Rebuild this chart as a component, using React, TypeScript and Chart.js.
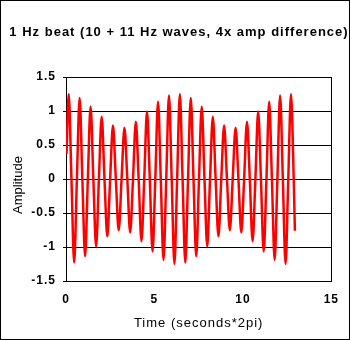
import { useEffect, useRef } from 'react';
import { Chart, registerables } from 'chart.js';

Chart.register(...registerables);

const TITLE = '1 Hz beat (10 + 11 Hz waves, 4x amp difference)';
const X_TITLE = 'Time (seconds*2pi)';
const Y_TITLE = 'Amplitude';
const X_TICKS = [0, 5, 10, 15];
const X_TICK_LABELS = ['0', '5', '10', '15'];
const Y_TICKS = [-1.5, -1, -0.5, 0, 0.5, 1, 1.5];
const Y_TICK_LABELS = ['-1.5', '-1', '-0.5', '0', '0.5', '1', '1.5'];

// time (seconds*2pi) of each peak / zero crossing / trough
const TIME = [
  0.03,
  0.154, 0.308, 0.462, 0.616, 0.77, 0.925, 1.08, 1.235, 1.39, 1.546,
  1.703, 1.86, 2.017, 2.176, 2.335, 2.495, 2.656, 2.817, 2.979, 3.142,
  3.304, 3.466, 3.627, 3.788, 3.948, 4.107, 4.266, 4.423, 4.58, 4.737,
  4.893, 5.048, 5.203, 5.358, 5.513, 5.667, 5.821, 5.975, 6.129, 6.283,
  6.437, 6.591, 6.745, 6.899, 7.054, 7.208, 7.363, 7.518, 7.674, 7.829,
  7.986, 8.143, 8.301, 8.459, 8.618, 8.778, 8.939, 9.1, 9.262, 9.425,
  9.587, 9.749, 9.91, 10.071, 10.231, 10.391, 10.549, 10.707, 10.864, 11.02,
  11.176, 11.332, 11.487, 11.641, 11.796, 11.95, 12.104, 12.259, 12.412, 12.566,
  12.72, 12.874,
  12.94,
];

const AMPLITUDE = [
  0.37,
  1.248, 0, -1.228, 0, 1.19, 0, -1.136, 0, 1.068, 0,
  -0.992, 0, 0.914, 0, -0.842, 0, 0.786, 0, -0.754, 0,
  0.754, 0, -0.786, 0, 0.842, 0, -0.914, 0, 0.992, 0,
  -1.068, 0, 1.136, 0, -1.19, 0, 1.228, 0, -1.248, 0,
  1.248, 0, -1.228, 0, 1.19, 0, -1.136, 0, 1.068, 0,
  -0.992, 0, 0.914, 0, -0.842, 0, 0.786, 0, -0.754, 0,
  0.754, 0, -0.786, 0, 0.842, 0, -0.914, 0, 0.992, 0,
  -1.068, 0, 1.136, 0, -1.19, 0, 1.228, 0, -1.248, 0,
  1.248, 0,
  -0.76,
];

const FONT = "'Liberation Sans', Arial, sans-serif";

export default function App() {
  const ref = useRef<HTMLCanvasElement>(null);

  useEffect(() => {
    const canvas = ref.current;
    if (!canvas) return;

    const spacing = {
      id: 'spacing',
      beforeUpdate(c: any) {
        c.ctx.letterSpacing = '1px';
      },
      beforeDraw(c: any) {
        c.ctx.letterSpacing = '1px';
      },
    };
    const frame = {
      id: 'frame',
      afterDraw(c: any) {
        const ctx = c.ctx;
        ctx.save();
        ctx.strokeStyle = '#000';
        ctx.lineWidth = 1;
        ctx.strokeRect(0.5, 0.5, c.width - 1, c.height - 1);
        ctx.restore();
      },
    };

    const chart = new Chart(canvas, {
      type: 'line',
      data: {
        datasets: [
          {
            data: TIME.map((x, i) => ({ x, y: AMPLITUDE[i] })),
            borderColor: '#ff0000',
            borderWidth: 2.5,
            pointRadius: 0,
            cubicInterpolationMode: 'monotone',
            fill: false,
          },
        ],
      },
      options: {
        animation: false,
        responsive: false,
        devicePixelRatio: 1,
        layout: { padding: { left: 8, right: 0, top: 0, bottom: 0 } },
        plugins: {
          legend: { display: false },
          tooltip: { enabled: false },
          title: {
            display: true,
            text: TITLE,
            color: '#000',
            font: { family: FONT, size: 13, weight: 'bold', lineHeight: 1.2 },
            padding: { top: 25, bottom: 36.4 },
          },
        },
        scales: {
          x: {
            type: 'linear',
            min: 0,
            max: 15,
            afterBuildTicks: (s: any) => {
              s.ticks = X_TICKS.map((v) => ({ value: v }));
            },
            afterFit: (s: any) => {
              s.height = 59;
            },
            grid: {
              drawTicks: false,
              color: (c: any) => (c.tick && c.tick.value === 15 ? '#000' : 'rgba(0,0,0,0)'),
              lineWidth: 1,
            },
            border: { color: '#000', width: 1 },
            ticks: {
              padding: 11,
              color: '#000',
              maxRotation: 0,
              autoSkip: false,
              font: { family: FONT, size: 12, weight: 'bold' },
              callback: (v: any) => {
                const i = X_TICKS.indexOf(Number(v));
                return i >= 0 ? X_TICK_LABELS[i] : '';
              },
            },
            title: {
              display: true,
              text: X_TITLE,
              color: '#000',
              font: { family: FONT, size: 13, lineHeight: 1.2 },
              padding: { top: 0, bottom: 9 },
            },
          },
          y: {
            type: 'linear',
            min: -1.5,
            max: 1.5,
            afterBuildTicks: (s: any) => {
              s.ticks = Y_TICKS.map((v) => ({ value: v }));
            },
            afterFit: (s: any) => {
              s.width = 58;
              if (!s._patchedTitle) {
                s._patchedTitle = true;
                const orig = s.drawTitle;
                s.drawTitle = function (this: any) {
                  const ctx = this.ctx;
                  ctx.save();
                  ctx.letterSpacing = '0px';
                  ctx.translate(0, 6);
                  orig.call(this);
                  ctx.restore();
                };
              }
            },
            grid: { color: '#000', lineWidth: 1, drawTicks: true, tickLength: 3 },
            border: { color: '#000', width: 1 },
            ticks: {
              padding: 7,
              color: '#000',
              font: { family: FONT, size: 12, weight: 'bold' },
              callback: (v: any) => {
                const i = Y_TICKS.indexOf(Number(v));
                return i >= 0 ? Y_TICK_LABELS[i] : '';
              },
            },
            title: {
              display: true,
              text: Y_TITLE,
              color: '#000',
              font: { family: FONT, size: 13, lineHeight: 1.2 },
              padding: { top: 2.2, bottom: 0 },
            },
          },
          y2: {
            type: 'linear',
            position: 'right',
            display: true,
            afterFit: (s: any) => {
              s.width = 14;
            },
            grid: { display: false },
            border: { display: false },
            ticks: { display: false },
          },
        },
      },
      plugins: [spacing, frame],
    } as any);

    return () => chart.destroy();
  }, []);

  return (
    <div style={{ position: 'absolute', left: 0, top: 0, width: 350, height: 340, background: '#fff' }}>
      <canvas ref={ref} width={350} height={340} style={{ display: 'block' }} />
    </div>
  );
}
